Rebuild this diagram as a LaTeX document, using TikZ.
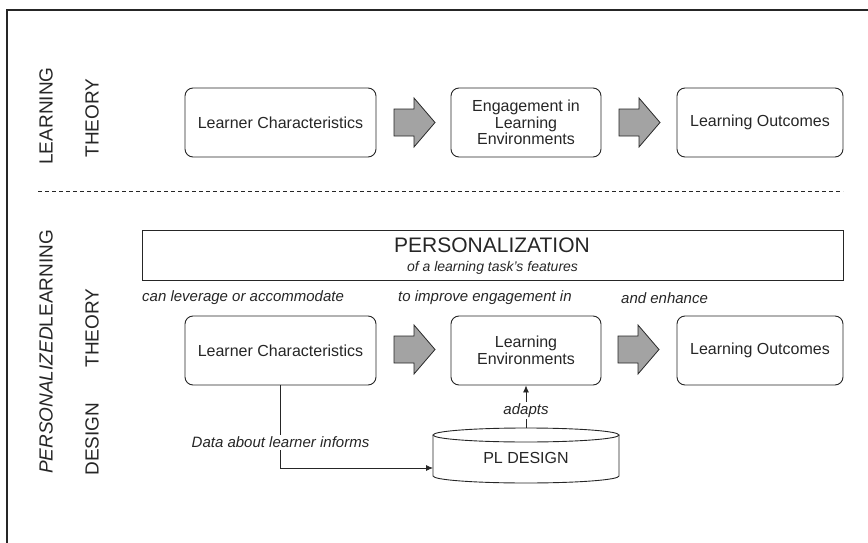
\documentclass[tikz,border=0pt]{standalone}
\usepackage{fontspec}
\setmainfont{Liberation Sans}
\usetikzlibrary{arrows.meta}
\definecolor{ink}{HTML}{262626}
\definecolor{arrowfill}{HTML}{A3A3A3}
\tikzset{
  box/.style={draw=ink, line width=0.9pt, rounded corners=8pt, minimum height=69pt, inner sep=0pt, align=center, text=ink, font=\fontsize{16}{17}\selectfont},
  fat/.style={draw=ink, line width=0.8pt, fill=arrowfill},
  sidelabel/.style={rotate=90, text=ink, inner sep=0pt, font=\fontsize{19}{20}\selectfont},
  itlabel/.style={text=ink, inner sep=0pt, anchor=west, font=\fontsize{15}{16}\selectfont\itshape},
  conn/.style={draw=ink, line width=0.8pt},
  tip/.style={-{Latex[length=7pt,width=6pt]}}
}
\newcommand\fatarr[2]{%
  \draw[fat] (#1,#2-13.5) -- (#1+20,#2-13.5) -- (#1+20,#2-24.5) -- (#1+41,#2)
    -- (#1+20,#2+24.5) -- (#1+20,#2+13.5) -- (#1,#2+13.5) -- cycle;}
\begin{document}
\begin{tikzpicture}[x=1pt,y=-1pt]
\useasboundingbox (0,0) rectangle (868,543);
% frame
\draw[ink, line width=1.2pt] (7,543) -- (7,10) -- (868,10);

% ---- upper section
\node[sidelabel] (ll) at (46,116) {LEARNING};
\node[sidelabel] (lt) at (92,118) {THEORY};

\node[box, minimum width=191pt] (lc1) at (280.5,122.5) {Learner Characteristics};
\node[box, minimum width=150pt, font=\fontsize{16}{16.5}\selectfont] (en1) at (526,122.5) {Engagement in\\Learning\\Environments};
\node[box, minimum width=166pt] (lo1) at (760,122.5) {Learning Outcomes};
\fatarr{394}{122.5}
\fatarr{619}{122.5}

\draw[ink, line width=0.8pt, dash pattern=on 4pt off 3pt] (38,191) -- (843,191);

% ---- lower section
\node[sidelabel] (pl) at (46,352) {\textit{PERSONALIZED}LEARNING};
\node[sidelabel] (pt) at (92,328) {THEORY};
\node[sidelabel] (pd) at (92,439) {DESIGN};

\node[draw=ink, line width=0.9pt, minimum width=701pt, minimum height=50pt, inner sep=0pt] (pers) at (492.5,255) {};
\node[text=ink, inner sep=0pt, font=\fontsize{21}{22}\selectfont] (perst) at (492,245) {PERSONALIZATION};
\node[text=ink, inner sep=0pt, font=\fontsize{14}{15}\selectfont\itshape] (perss) at (492.5,268) {of a learning task's features};

\node[itlabel] (t1) at (142,298) {can leverage or accommodate};
\node[itlabel] (t2) at (398,298) {to improve engagement in};
\node[itlabel] (t3) at (621,298) {and enhance};

\node[box, minimum width=191pt] (lc2) at (280.5,350.5) {Learner Characteristics};
\node[box, minimum width=150pt] (en2) at (526,350.5) {Learning\\Environments};
\node[box, minimum width=166pt] (lo2) at (760,350.5) {Learning Outcomes};
\fatarr{394}{349.5}
\fatarr{618}{349.5}

% cylinder
\draw[ink, line width=0.9pt, fill=white] (433,435) -- (433,476) arc[start angle=180, end angle=360, x radius=93pt, y radius=7pt] -- (619,435);
\draw[ink, line width=0.9pt] (526,435) ellipse [x radius=93pt, y radius=7pt];
\node[minimum width=186pt, minimum height=40pt, inner sep=0pt, text=ink, font=\fontsize{16}{17}\selectfont] (pld) at (526,458) {PL DESIGN};
\coordinate (cyltop) at (526,428);
\coordinate (cylin) at (433,468);

% connectors
\draw[conn, tip] (lc2.south) |- (cylin)
  node[pos=0.343, fill=white, inner sep=2pt, text=ink, font=\fontsize{15}{16}\selectfont\itshape] (dl) {Data about learner informs};
\draw[conn, tip] (cyltop) -- (en2.south)
  node[pos=0.4, fill=white, inner sep=1.5pt, text=ink, font=\fontsize{15}{16}\selectfont\itshape] (ad) {adapts};
\end{tikzpicture}
\end{document}
